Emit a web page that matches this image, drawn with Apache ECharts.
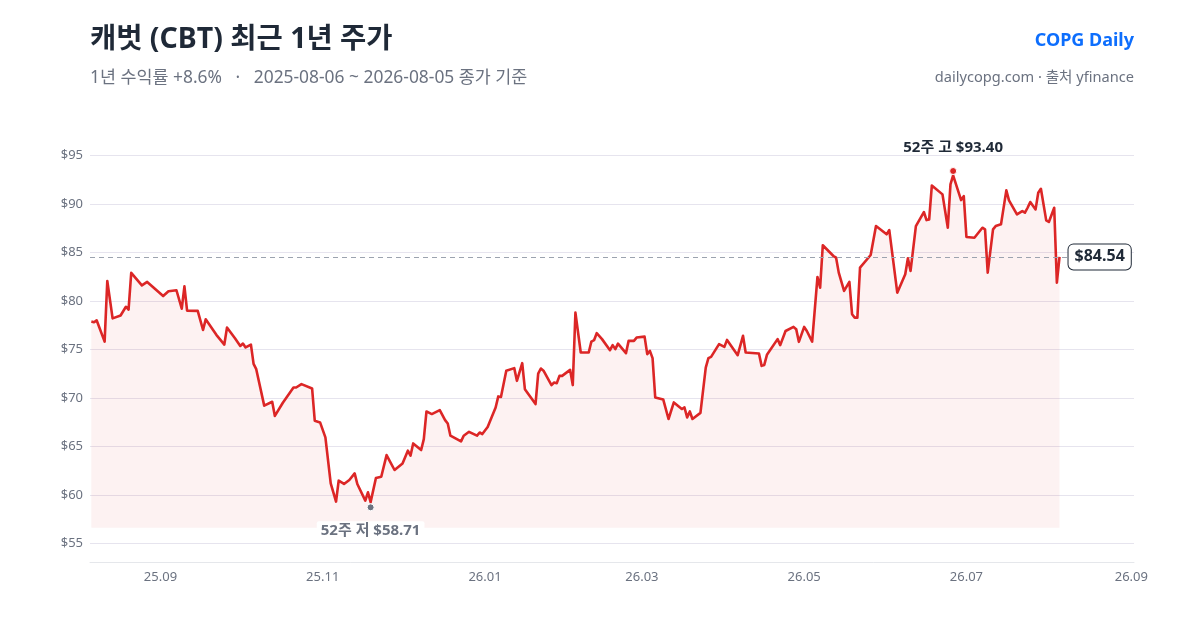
<!DOCTYPE html>
<html>
<head>
<meta charset="utf-8">
<script src="https://cdn.jsdelivr.net/npm/echarts@6/dist/echarts.min.js"></script>
<style>
html,body{margin:0;padding:0;background:#fff;}
#chart{width:1200px;height:630px;}
</style>
</head>
<body>
<div id="chart"></div>
<script>
const dates = [
'2025-08-06','2025-08-07','2025-08-08','2025-08-11','2025-08-12','2025-08-14','2025-08-17','2025-08-19','2025-08-20','2025-08-21',
'2025-08-25','2025-08-27','2025-09-02','2025-09-04','2025-09-07','2025-09-09','2025-09-10','2025-09-11','2025-09-15','2025-09-17',
'2025-09-18','2025-09-22','2025-09-25','2025-09-26','2025-09-29','2025-10-01','2025-10-02','2025-10-03','2025-10-05','2025-10-06',
'2025-10-07','2025-10-10','2025-10-13','2025-10-14','2025-10-17','2025-10-21','2025-10-22','2025-10-24','2025-10-28','2025-10-29',
'2025-10-31','2025-11-02','2025-11-04','2025-11-06','2025-11-07','2025-11-09','2025-11-11','2025-11-13','2025-11-14','2025-11-17',
'2025-11-18','2025-11-19','2025-11-21','2025-11-23','2025-11-25','2025-11-26','2025-11-28','2025-12-01','2025-12-03','2025-12-04',
'2025-12-05','2025-12-08','2025-12-09','2025-12-10','2025-12-12','2025-12-15','2025-12-17','2025-12-18','2025-12-19','2025-12-23',
'2025-12-24','2025-12-26','2025-12-29','2025-12-30','2025-12-31','2026-01-02','2026-01-05','2026-01-06','2026-01-07','2026-01-09',
'2026-01-12','2026-01-13','2026-01-15','2026-01-16','2026-01-20','2026-01-21','2026-01-22','2026-01-23','2026-01-26','2026-01-27',
'2026-01-28','2026-01-29','2026-01-30','2026-02-02','2026-02-03','2026-02-04','2026-02-06','2026-02-09','2026-02-10','2026-02-11',
'2026-02-12','2026-02-14','2026-02-17','2026-02-18','2026-02-19','2026-02-20','2026-02-23','2026-02-24','2026-02-26','2026-02-27',
'2026-03-02','2026-03-03','2026-03-04','2026-03-05','2026-03-06','2026-03-09','2026-03-11','2026-03-13','2026-03-16','2026-03-17',
'2026-03-18','2026-03-19','2026-03-20','2026-03-23','2026-03-25','2026-03-26','2026-03-27','2026-03-30','2026-04-01','2026-04-02',
'2026-04-06','2026-04-08','2026-04-09','2026-04-14','2026-04-15','2026-04-16','2026-04-17','2026-04-21','2026-04-22','2026-04-24',
'2026-04-27','2026-04-28','2026-04-29','2026-05-01','2026-05-02','2026-05-04','2026-05-06','2026-05-07','2026-05-08','2026-05-12',
'2026-05-13','2026-05-14','2026-05-16','2026-05-18','2026-05-19','2026-05-20','2026-05-21','2026-05-22','2026-05-26','2026-05-28',
'2026-06-01','2026-06-02','2026-06-05','2026-06-08','2026-06-09','2026-06-10','2026-06-12','2026-06-15','2026-06-16','2026-06-17',
'2026-06-18','2026-06-22','2026-06-24','2026-06-25','2026-06-26','2026-06-29','2026-06-30','2026-07-01','2026-07-04','2026-07-07',
'2026-07-08','2026-07-09','2026-07-11','2026-07-12','2026-07-14','2026-07-16','2026-07-17','2026-07-20','2026-07-22','2026-07-23',
'2026-07-24','2026-07-25','2026-07-27','2026-07-28','2026-07-29','2026-07-31','2026-08-01','2026-08-03','2026-08-04','2026-08-05'
];
const closes = [
77.87,77.8,78.0,75.8,82.06,78.2,78.5,79.4,79.1,82.9,
81.6,81.96,80.5,81.0,81.1,79.2,81.5,79.0,78.97,77.0,
78.1,76.5,75.5,77.25,76.15,75.36,75.6,75.2,75.5,73.5,
72.96,69.2,69.6,68.14,69.5,71.07,71.07,71.42,70.97,67.64,
67.47,65.92,61.19,59.3,61.46,61.12,61.53,62.21,61.12,59.4,
60.26,59.25,61.74,61.87,64.1,63.59,62.56,63.24,64.55,64.04,
65.3,64.62,65.75,68.6,68.33,68.74,67.71,67.36,66.1,65.51,
66.1,66.5,66.1,66.43,66.27,67.0,69.0,70.15,70.1,72.8,
73.07,71.76,73.58,70.9,69.36,72.51,73.03,72.8,71.32,71.59,
71.52,72.27,72.27,72.89,71.32,78.8,74.68,74.68,75.81,75.95,
76.67,76.06,74.92,75.44,75.03,75.6,74.61,75.88,75.88,76.22,
76.32,74.51,74.85,74.1,70.04,69.84,67.82,69.53,68.85,69.01,
67.98,68.6,67.82,68.45,73.13,74.1,74.23,75.54,75.26,75.98,
74.4,76.4,74.68,74.57,73.3,73.4,74.44,76.06,75.44,76.9,
77.32,77.09,75.78,77.32,76.9,75.81,82.47,81.37,85.74,84.63,
84.46,82.92,81.03,81.96,78.63,78.28,78.28,83.43,84.74,87.72,
86.87,87.31,80.85,82.75,84.4,83.09,87.72,89.17,88.34,88.41,
91.91,90.99,87.55,92.02,92.95,90.4,90.81,86.59,86.52,87.55,
87.38,82.92,87.38,87.72,87.9,91.4,90.37,88.93,89.27,89.1,
89.61,90.2,89.44,91.15,91.57,88.31,88.14,89.61,81.89,84.54
];
const high52 = { date: '2026-06-26', value: 93.40 };
const low52 = { date: '2025-11-19', value: 58.71 };
const yTicks = [55, 60, 65, 70, 75, 80, 85, 90, 95];
const xTickDates = ['2025-09-01','2025-11-01','2026-01-01','2026-03-01','2026-05-01','2026-07-01','2026-09-01'];
const xTickLabels = ['25.09','25.11','26.01','26.03','26.05','26.07','26.09'];
const xRange = ['2025-08-05', '2026-09-02'];

function toTs(s){ const p = s.split('-').map(Number); return new Date(p[0], p[1]-1, p[2]).getTime(); }
const DAY = 86400000;
const seriesData = dates.map((d,i)=>[toTs(d), closes[i]]);
const lastTs = toTs(dates[dates.length-1]);
const lastClose = closes[closes.length-1];
const xTickTs = xTickDates.map(toTs);
const FONT = "'Noto Sans', 'Noto Sans CJK KR', sans-serif";

const chart = echarts.init(document.getElementById('chart'), null, {renderer:'canvas'});
chart.setOption({
  animation: false,
  backgroundColor: '#ffffff',
  textStyle: { fontFamily: FONT },
  title: [
    { text: '캐벗 (CBT) 최근 1년 주가', left: 90, top: 26, padding: 0,
      textStyle: { fontSize: 28.5, fontWeight: 'bold', color: '#1f2937', fontFamily: FONT } },
    { text: '1년 수익률 +8.6%   ·   2025-08-06 ~ 2026-08-05 종가 기준', left: 90, top: 69, padding: 0,
      textStyle: { fontSize: 17.4, fontWeight: 'normal', color: '#6b7280', fontFamily: FONT } },
    { text: 'COPG Daily', right: 66, top: 32, padding: 0,
      textStyle: { fontSize: 18, fontWeight: 'bold', color: '#0d6efd', fontFamily: FONT } },
    { text: 'dailycopg.com · 출처 yfinance', right: 66, top: 71, padding: 0,
      textStyle: { fontSize: 14.6, fontWeight: 'normal', color: '#6b7280', fontFamily: FONT } }
  ],
  grid: { left: 90, right: 66, top: 155.5, bottom: 86.7, containLabel: false },
  xAxis: {
    type: 'value',
    min: toTs(xRange[0]) + DAY / 2,
    max: toTs(xRange[1]),
    offset: 18.5,
    axisLine: { show: true, lineStyle: { color: '#e5e7eb', width: 1 } },
    axisTick: { show: false },
    splitLine: { show: false },
    axisLabel: {
      customValues: xTickTs,
      color: '#6b7280', fontSize: 13, fontFamily: FONT, margin: 9,
      formatter: function(v){ const i = xTickTs.indexOf(v); return i >= 0 ? xTickLabels[i] : ''; }
    }
  },
  yAxis: {
    type: 'value',
    min: yTicks[0], max: yTicks[yTicks.length-1], interval: 5,
    axisLine: { show: false },
    axisTick: { show: false },
    splitLine: { show: true, lineStyle: { color: '#e6e4ee', width: 1 } },
    axisLabel: { color: '#6b7280', fontSize: 13, fontFamily: FONT, margin: 7, formatter: '${value}' }
  },
  series: [{
    type: 'line',
    data: seriesData,
    showSymbol: false,
    symbol: 'none',
    lineStyle: { color: '#dc2626', width: 2.6, join: 'round' },
    areaStyle: { color: 'rgba(220,38,38,0.085)', origin: 56.6 },
    markLine: {
      silent: true,
      symbol: ['none','none'],
      label: { show: false },
      lineStyle: { color: '#9ca3af', type: [5,4], width: 1 },
      data: [{ yAxis: lastClose }]
    },
    markPoint: {
      silent: true,
      data: [
        { coord: [toTs(high52.date), high52.value], symbol: 'circle', symbolSize: 7,
          itemStyle: { color: '#dc2626', borderColor: '#fff', borderWidth: 1 },
          label: { show: true, position: 'top', distance: 12,
            formatter: '52주 고 $' + high52.value.toFixed(2),
            color: '#1f2937', fontSize: 15, fontWeight: 'bold', fontFamily: FONT } },
        { coord: [toTs(low52.date), low52.value], symbol: 'circle', symbolSize: 7,
          itemStyle: { color: '#6b7280', borderColor: '#fff', borderWidth: 1 },
          label: { show: true, position: 'bottom', distance: 10,
            formatter: '52주 저 $' + low52.value.toFixed(2),
            backgroundColor: '#ffffff', padding: [2,4], borderRadius: 2,
            color: '#6b7280', fontSize: 15, fontWeight: 'bold', fontFamily: FONT } },
        { coord: [lastTs, lastClose], symbol: 'circle', symbolSize: 0,
          label: { show: true, position: 'right', distance: 9,
            formatter: '$' + lastClose.toFixed(2),
            backgroundColor: '#ffffff', borderColor: '#1f2937', borderWidth: 1, borderRadius: 5,
            padding: [5,6,4,6],
            color: '#1f2937', fontSize: 16, fontWeight: 'bold', fontFamily: FONT } }
      ]
    }
  }]
});
</script>
</body>
</html>
